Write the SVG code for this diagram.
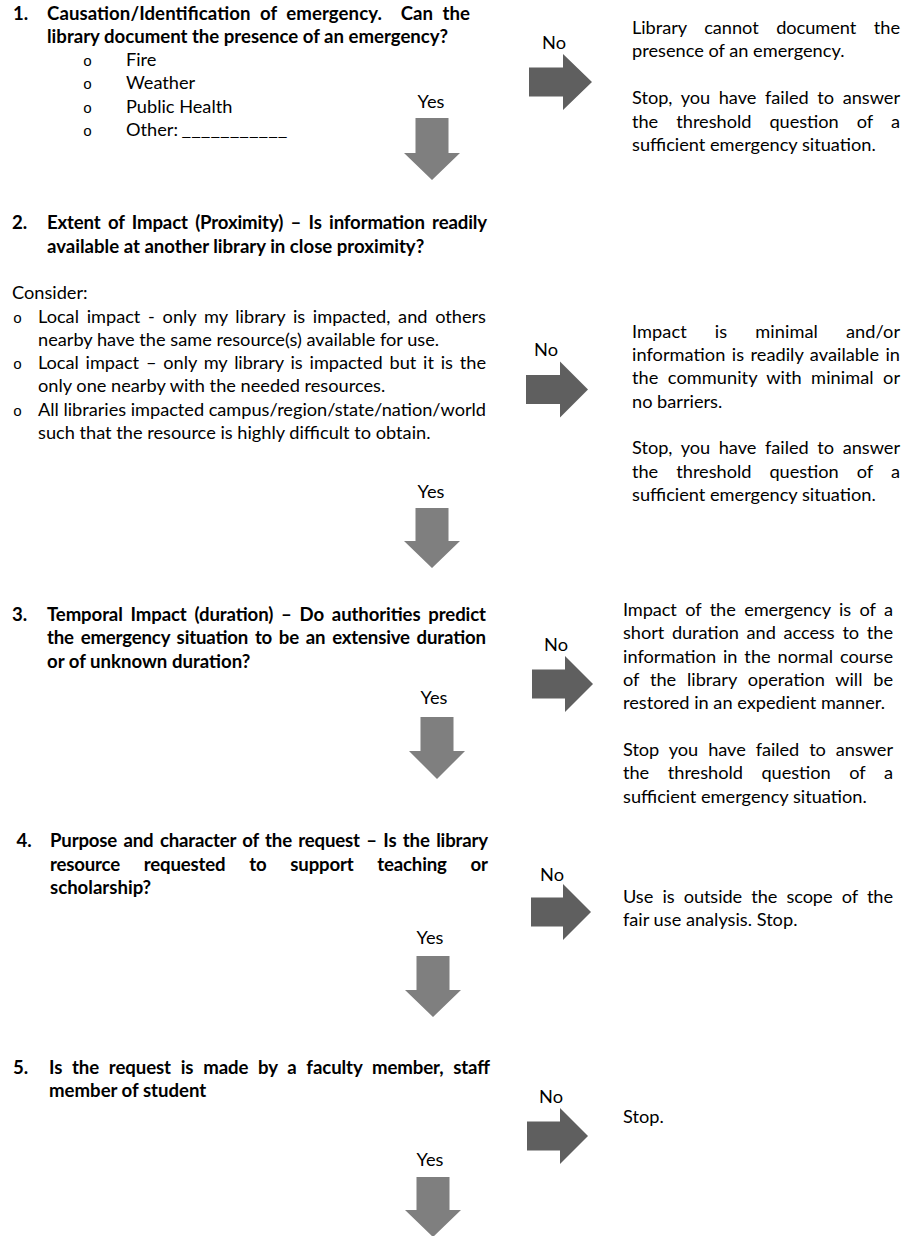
<svg xmlns="http://www.w3.org/2000/svg" width="904" height="1236" viewBox="0 0 904 1236">
<style>
text{font-family:Lato,"Open Sans","Liberation Sans",sans-serif;font-size:18.2px;fill:#000}
.b{font-weight:700;font-size:18.6px}
.bul{font-family:"Liberation Mono",monospace;font-size:15px}
.lbl{text-anchor:middle}
.down{fill:#7f7f7f}
.right{fill:#5f5f5f}
</style>
<rect width="904" height="1236" fill="#fff"/>
<g id="q1">
<text class="b" x="13" y="19.5">1.</text>
<text class="b" x="47" y="19.5" textLength="423" lengthAdjust="spacing" word-spacing="4.8">Causation/Identification of emergency.&#160; Can the</text>
<text class="b" x="47" y="43">library document the presence of an emergency?</text>
<text class="bul" x="83" y="65.5">o</text><text x="126" y="65.5">Fire</text>
<text class="bul" x="83" y="89">o</text><text x="126" y="89">Weather</text>
<text class="bul" x="83" y="112.5">o</text><text x="126" y="112.5">Public Health</text>
<text class="bul" x="83" y="136">o</text><text x="126" y="136">Other: <tspan x="181.5" textLength="106" lengthAdjust="spacingAndGlyphs">___________</tspan></text>
</g>
<g id="stop1">
<text x="632" y="33.5" textLength="268" lengthAdjust="spacing" word-spacing="13">Library cannot document the</text>
<text x="632" y="57">presence of an emergency.</text>
<text x="632" y="104" textLength="268" lengthAdjust="spacing" word-spacing="4">Stop, you have failed to answer</text>
<text x="632" y="127.5" textLength="268" lengthAdjust="spacing" word-spacing="13.5">the threshold question of a</text>
<text x="632" y="151">sufficient emergency situation.</text>
</g>
<g id="q2">
<text class="b" x="12" y="229">2.</text>
<text class="b" x="47" y="229" textLength="440" lengthAdjust="spacing" word-spacing="3">Extent of Impact (Proximity) – Is information readily</text>
<text class="b" x="47" y="252.5">available at another library in close proximity?</text>
<text x="12" y="298.5">Consider:</text>
<text class="bul" x="13" y="322.5">o</text>
<text x="38" y="322.5" textLength="448" lengthAdjust="spacing" word-spacing="3.1">Local impact - only my library is impacted, and others</text>
<text x="38" y="345.5">nearby have the same resource(s) available for use.</text>
<text class="bul" x="13" y="369">o</text>
<text x="38" y="369" textLength="448" lengthAdjust="spacing" word-spacing="2.3">Local impact – only my library is impacted but it is the</text>
<text x="38" y="392">only one nearby with the needed resources.</text>
<text class="bul" x="13" y="415.5">o</text>
<text x="38" y="415.5" textLength="448" lengthAdjust="spacing">All libraries impacted campus/region/state/nation/world</text>
<text x="38" y="439">such that the resource is highly difficult to obtain.</text>
</g>
<g id="stop2">
<text x="632" y="337.5" textLength="268" lengthAdjust="spacing" word-spacing="23.4">Impact is minimal and/or</text>
<text x="632" y="361" textLength="268" lengthAdjust="spacing" word-spacing="1.7">information is readily available in</text>
<text x="632" y="384" textLength="268" lengthAdjust="spacing" word-spacing="4.7">the community with minimal or</text>
<text x="632" y="407.5">no barriers.</text>
<text x="632" y="454" textLength="268" lengthAdjust="spacing" word-spacing="4">Stop, you have failed to answer</text>
<text x="632" y="477.5" textLength="268" lengthAdjust="spacing" word-spacing="13.5">the threshold question of a</text>
<text x="632" y="501">sufficient emergency situation.</text>
</g>
<g id="q3">
<text class="b" x="12" y="620.5">3.</text>
<text class="b" x="47" y="620.5" textLength="439" lengthAdjust="spacing" word-spacing="3.4">Temporal Impact (duration) – Do authorities predict</text>
<text class="b" x="47" y="644" textLength="439" lengthAdjust="spacing" word-spacing="2.4">the emergency situation to be an extensive duration</text>
<text class="b" x="47" y="667.5">or of unknown duration?</text>
</g>
<g id="stop3">
<text x="623" y="615.5" textLength="270" lengthAdjust="spacing" word-spacing="3.9">Impact of the emergency is of a</text>
<text x="623" y="639" textLength="270" lengthAdjust="spacing" word-spacing="3.2">short duration and access to the</text>
<text x="623" y="662.5" textLength="270" lengthAdjust="spacing" word-spacing="2.2">information in the normal course</text>
<text x="623" y="685.5" textLength="270" lengthAdjust="spacing" word-spacing="6.1">of the library operation will be</text>
<text x="623" y="709">restored in an expedient manner.</text>
<text x="623" y="755.5" textLength="270" lengthAdjust="spacing" word-spacing="5.4">Stop you have failed to answer</text>
<text x="623" y="779" textLength="270" lengthAdjust="spacing" word-spacing="14">the threshold question of a</text>
<text x="623" y="802.5">sufficient emergency situation.</text>
</g>
<g id="q4">
<text class="b" x="16.5" y="847">4.</text>
<text class="b" x="50" y="847" textLength="438" lengthAdjust="spacing" word-spacing="2.1">Purpose and character of the request – Is the library</text>
<text class="b" x="50" y="870.5" textLength="438" lengthAdjust="spacing" word-spacing="19.5">resource requested to support teaching or</text>
<text class="b" x="50" y="894">scholarship?</text>
</g>
<g id="stop4">
<text x="623" y="902.5" textLength="270" lengthAdjust="spacing" word-spacing="4.7">Use is outside the scope of the</text>
<text x="623" y="926">fair use analysis. Stop.</text>
</g>
<g id="q5">
<text class="b" x="13" y="1073.5">5.</text>
<text class="b" x="49" y="1073.5" textLength="441" lengthAdjust="spacing" word-spacing="5.3">Is the request is made by a faculty member, staff</text>
<text class="b" x="49" y="1097">member of student</text>
</g>
<g id="stop5">
<text x="623" y="1122.5">Stop.</text>
</g>
<g id="connectors">
<path class="down" d="M415.5,118H448.5V153H460L432,180L404,153H415.5Z"/>
<path class="down" d="M415.5,508H448.5V541H460L432,568L404,541H415.5Z"/>
<path class="down" d="M420.5,717H453.5V751H465L437,779L409,751H420.5Z"/>
<path class="down" d="M416.5,956H449.5V990H461L433,1017L405,990H416.5Z"/>
<path class="down" d="M416.5,1177H449.5V1210H461L433,1237L405,1210H416.5Z"/>
<path class="right" d="M529,67.5H563V54L592,82L563,110V96.5H529Z"/>
<path class="right" d="M526,375H560V361.5L588,389.5L560,417.5V404H526Z"/>
<path class="right" d="M532,669.5H565V656L593,684L565,712V698.5H532Z"/>
<path class="right" d="M531,897.5H563V884L591,912L563,940V926.5H531Z"/>
<path class="right" d="M527,1121.5H560V1108L588,1136L560,1164V1150.5H527Z"/>
<text class="lbl" x="431" y="107.5">Yes</text>
<text class="lbl" x="431" y="497.5">Yes</text>
<text class="lbl" x="434" y="703.5">Yes</text>
<text class="lbl" x="430" y="943.5">Yes</text>
<text class="lbl" x="430" y="1165.5">Yes</text>
<text class="lbl" x="554" y="48.5">No</text>
<text class="lbl" x="546" y="355.5">No</text>
<text class="lbl" x="556" y="650.5">No</text>
<text class="lbl" x="552" y="880.5">No</text>
<text class="lbl" x="551" y="1102.5">No</text>
</g>
</svg>
